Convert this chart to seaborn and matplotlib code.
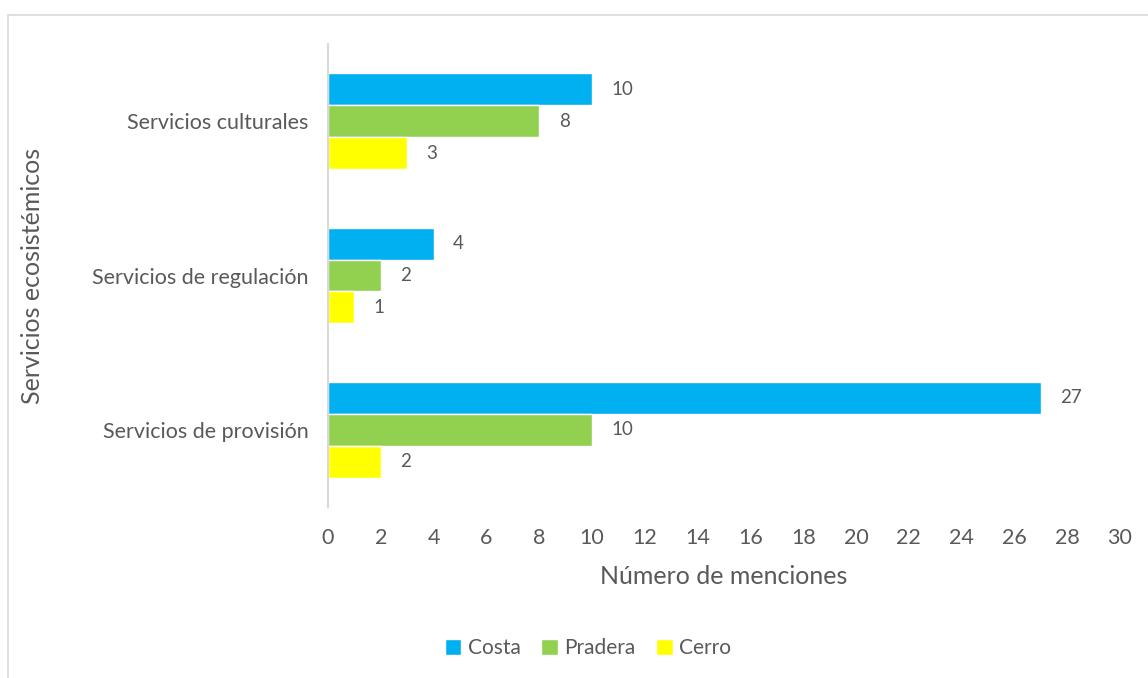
import numpy as np
import pandas as pd
import matplotlib.pyplot as plt
import seaborn as sns
from matplotlib.patches import Rectangle

# Datos
categorias = ['Servicios culturales', 'Servicios de regulación', 'Servicios de provisión']
series = ['Costa', 'Pradera', 'Cerro']
costa = [10, 4, 27]
pradera = [8, 2, 10]
cerro = [3, 1, 2]
colores = ['#00B0F0', '#92D050', '#FFFF00']
ticks_x = list(range(0, 31, 2))

df = pd.DataFrame({
    'categoria': categorias * 3,
    'serie': [s for s in series for _ in categorias],
    'valor': costa + pradera + cerro,
})

sns.set_style('white')
plt.rcParams['font.family'] = ['Lato', 'DejaVu Sans']
gris = '#595959'

fig = plt.figure(figsize=(11.48, 6.78), dpi=100)
ax = fig.add_axes([328 / 1148, 1 - 507 / 678, 792 / 1148, 463 / 678])

sns.barplot(
    data=df, x='valor', y='categoria', hue='serie',
    order=categorias, hue_order=series,
    palette=colores, orient='h', width=0.62, gap=0,
    saturation=1, ax=ax, legend=True,
)

for cont in ax.containers:
    ax.bar_label(cont, padding=14, fontsize=13.5, color=gris)

ax.set_xlim(0, 30)
ax.set_xticks(ticks_x)
ax.tick_params(axis='x', length=0, pad=15, labelsize=15.5, labelcolor=gris)
ax.tick_params(axis='y', length=0, pad=14, labelsize=15.5, labelcolor=gris)

for s in ['top', 'right', 'bottom']:
    ax.spines[s].set_visible(False)
ax.spines['left'].set_color('#D9D9D9')
ax.spines['left'].set_linewidth(1.5)

ax.set_xlabel('Número de menciones', fontsize=18, color=gris, labelpad=12)
ax.set_ylabel('Servicios ecosistémicos', fontsize=18, color=gris)
ax.yaxis.set_label_coords(-0.358, 0.5)

ax.legend(
    loc='center', bbox_to_anchor=(588 / 1148, 1 - 648 / 678),
    bbox_transform=fig.transFigure, ncol=3, frameon=False,
    fontsize=15, labelcolor=gris, handlelength=0.8, handleheight=0.8,
    handletextpad=0.3, columnspacing=1.0,
)

# Marco del gráfico
fig.patches.append(Rectangle((8 / 1148, -0.05), 1.2, 1 - 15 / 678 + 0.05,
                             transform=fig.transFigure, fill=False,
                             edgecolor='#D9D9D9', linewidth=1.2))

fig.savefig('out.png', dpi=100)
